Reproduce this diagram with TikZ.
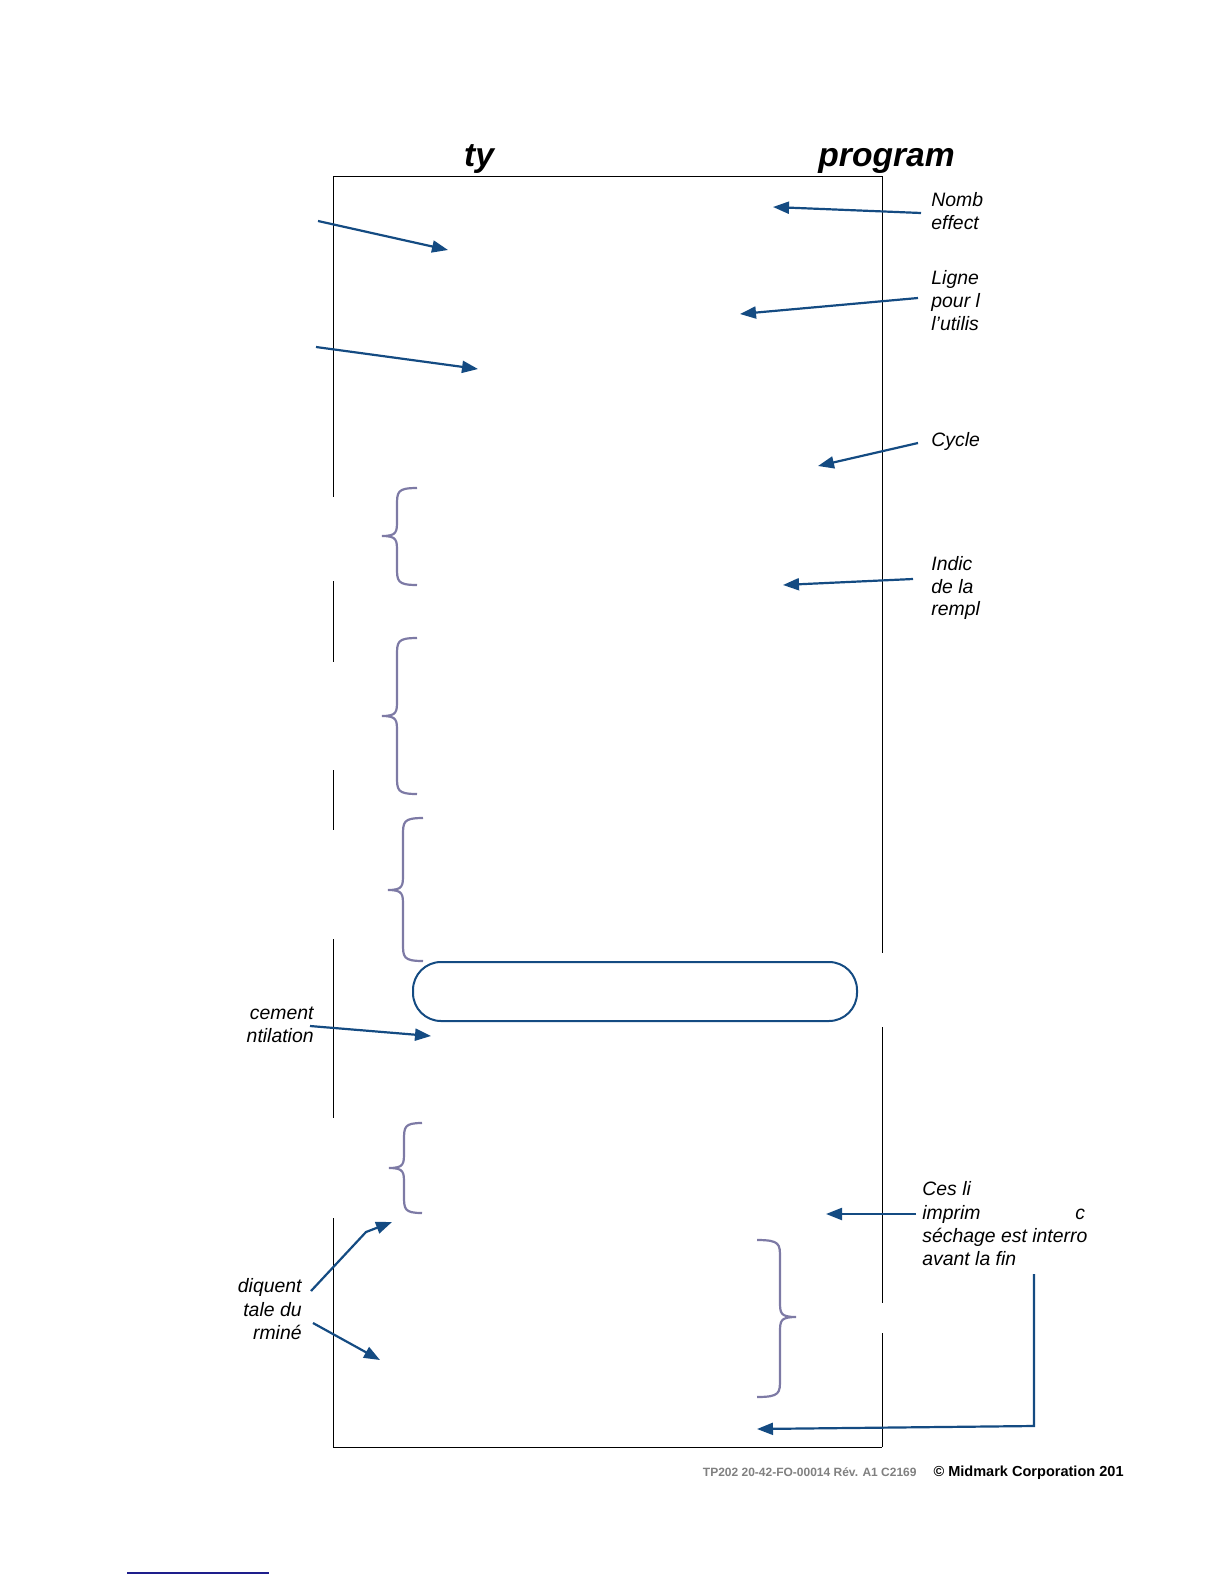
\documentclass[tikz,border=0pt]{standalone}
\usepackage{fontspec}
\setmainfont{Liberation Sans}
\usetikzlibrary{arrows.meta}
\definecolor{arrblue}{RGB}{20,75,130}
\definecolor{bracecol}{RGB}{125,122,165}
\definecolor{footgray}{RGB}{128,128,128}
\definecolor{navyline}{RGB}{30,30,140}
\newcommand\mybrace[7]{% name, xend, xbody, xtip, top, mid, bottom
  \draw[brace] (#2,#5) .. controls (#3,#5) and (#3,#5+4) .. (#3,#5+18)
    -- (#3,#6-16) .. controls (#3,#6-4) and (#3,#6) .. (#4,#6)
    .. controls (#3,#6) and (#3,#6+4) .. (#3,#6+16)
    -- (#3,#7-18) .. controls (#3,#7-4) and (#3,#7) .. (#2,#7);}
\begin{document}
\begin{tikzpicture}[x=0.5pt,y=-0.5pt,
 lbl/.style={font=\fontsize{9.7}{11.6}\selectfont\itshape, inner sep=0pt},
 ttl/.style={font=\fontsize{16.8}{20}\selectfont\bfseries\itshape, inner sep=0pt},
 arr/.style={draw=arrblue, line width=1.1pt, -{Triangle[length=8pt,width=6pt]}},
 frame/.style={draw=black, line width=0.5pt},
 brace/.style={draw=bracecol, line width=1.1pt},
 pill/.style={draw=arrblue, line width=1pt, rounded corners=14pt}
]
\useasboundingbox (0,0) rectangle (1224,1584);

% frame
\draw[frame] (333,176) -- (882,176);
\draw[frame] (333,1447) -- (882,1447);
\draw[frame] (333,176) -- (333,497);
\draw[frame] (333,581) -- (333,662);
\draw[frame] (333,770) -- (333,830);
\draw[frame] (333,939) -- (333,1118);
\draw[frame] (333,1218) -- (333,1447);
\draw[frame] (882,176) -- (882,953);
\draw[frame] (882,1027) -- (882,1303);
\draw[frame] (882,1333) -- (882,1447);

% titles
\node[ttl, anchor=base] (t1) at (479,166) {ty};
\node[ttl, anchor=base west] (t2) at (818,166) {program};

% braces
\mybrace{b1}{417}{397}{382}{488}{536}{585}
\mybrace{b2}{417}{397}{382}{638}{716}{794}
\mybrace{b3}{423}{403}{388}{818}{890}{961}
\mybrace{b4}{422}{404}{389}{1123}{1168}{1213}
\mybrace{b5}{757}{780}{796}{1240}{1317}{1397}

% rounded box
\draw[pill] (413,962) rectangle (857,1021);

% right labels
\node[lbl, anchor=base west] (r1a) at (931,206) {Nomb};
\node[lbl, anchor=base west] (r1b) at (931,229) {effect};
\node[lbl, anchor=base west] (r2a) at (931,284) {Ligne};
\node[lbl, anchor=base west] (r2b) at (931,307) {pour l};
\node[lbl, anchor=base west] (r2c) at (931,330) {l’utilis};
\node[lbl, anchor=base west] (r3a) at (931,446) {Cycle};
\node[lbl, anchor=base west] (r4a) at (931,570) {Indic};
\node[lbl, anchor=base west] (r4b) at (931,593) {de la};
\node[lbl, anchor=base west] (r4c) at (931,615) {rempl};
\node[lbl, anchor=base west] (r5a) at (922,1195) {Ces li};
\node[lbl, anchor=base west] (r5b) at (922,1219) {imprim};
\node[lbl, anchor=base west] (r5x) at (1075,1219) {c};
\node[lbl, anchor=base west] (r5c) at (922,1242) {séchage est interro};
\node[lbl, anchor=base west] (r5d) at (922,1265) {avant la fin};

% left labels
\node[lbl, anchor=base east] (l1a) at (314,1019) {cement};
\node[lbl, anchor=base east] (l1b) at (314,1042) {ntilation};
\node[lbl, anchor=base east] (l2a) at (302,1292) {diquent};
\node[lbl, anchor=base east] (l2b) at (302,1316) {tale du};
\node[lbl, anchor=base east] (l2c) at (302,1339) {rminé};

% arrow coordinates
\coordinate (s1) at (921,213); \coordinate (e1) at (773,207);
\coordinate (s2) at (918,298); \coordinate (e2) at (740,314);
\coordinate (s3) at (918,443); \coordinate (e3) at (818,466);
\coordinate (s4) at (913,579); \coordinate (e4) at (783,585);
\coordinate (s5) at (318,221); \coordinate (e5) at (448,250);
\coordinate (s6) at (316,347); \coordinate (e6) at (478,369);
\coordinate (s7) at (310,1026); \coordinate (e7) at (431,1036);
\coordinate (s8) at (311,1291); \coordinate (k8) at (366,1232); \coordinate (e8) at (392,1222);
\coordinate (s9) at (313,1323); \coordinate (e9) at (380,1360);
\coordinate (s10) at (916,1214); \coordinate (e10) at (826,1214);
\coordinate (s11) at (1034,1274); \coordinate (k11) at (1034,1426); \coordinate (e11) at (757,1429);

\draw[arr] (s1) -- (e1);
\draw[arr] (s2) -- (e2);
\draw[arr] (s3) -- (e3);
\draw[arr] (s4) -- (e4);
\draw[arr] (s5) -- (e5);
\draw[arr] (s6) -- (e6);
\draw[arr] (s7) -- (e7);
\draw[arr] (s8) -- (k8) -- (e8);
\draw[arr] (s9) -- (e9);
\draw[arr] (s10) -- (e10);
\draw[arr] (s11) -- (k11) -- (e11);

% footer
\node[font=\fontsize{6}{7}\selectfont\bfseries, text=footgray, anchor=base east, inner sep=0pt] (f1) at (917,1476) {TP202 20-42-FO-00014 Rév. A1 C2169};
\node[font=\fontsize{7.27}{8.5}\selectfont\bfseries, anchor=base east, inner sep=0pt] (f2) at (1124,1476) {© Midmark Corporation 201};
\coordinate (n1) at (127,1573); \coordinate (n2) at (269,1573);
\draw[navyline, line width=0.65pt] (n1) -- (n2);
\end{tikzpicture}
\end{document}
